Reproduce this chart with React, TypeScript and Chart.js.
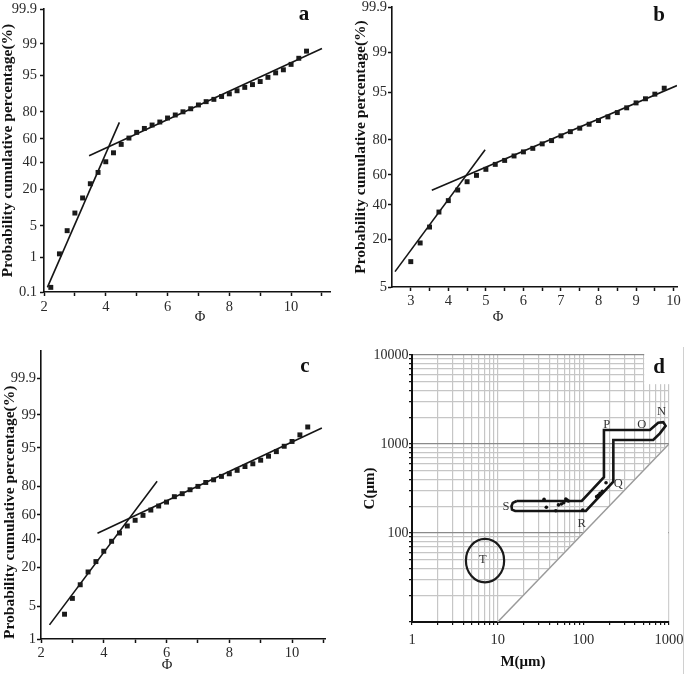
import React, { useEffect, useRef } from 'react';
import { Chart, registerables } from 'chart.js';

Chart.register(...registerables);

const SERIF = "'Liberation Serif', 'Times New Roman', Times, serif";

// ---------- Panel a ----------
const aPhi = [2.22, 2.5, 2.75, 3, 3.25, 3.5, 3.75, 4, 4.25, 4.5, 4.75, 5, 5.25, 5.5, 5.75, 6, 6.25, 6.5, 6.75, 7, 7.25, 7.5, 7.75, 8, 8.25, 8.5, 8.75, 9, 9.25, 9.5, 9.75, 10, 10.25, 10.5];
const aPct = [0.14, 1.2, 4.0, 8.6, 15, 23.4, 31.6, 40.3, 48, 55.3, 60.7, 65.4, 68.5, 71.1, 73.3, 76.1, 78.1, 80.1, 81.9, 84, 85.7, 86.8, 88.1, 89.2, 90.4, 91.6, 92.5, 93.4, 94.5, 95.5, 96.1, 97.0, 97.8, 98.5];
const aFit1Phi = [2.11, 4.44];
const aFit1Pct = [0.14, 73];
const aFit2Phi = [3.46, 11.0];
const aFit2Pct = [45.5, 98.7];
const aYTickLabels = ['0.1', '1', '5', '20', '40', '60', '80', '95', '99', '99.9'];
const aXTicks = [2, 3, 4, 5, 6, 7, 8, 9, 10, 11];
const aXTickLabels = ['2', '', '4', '', '6', '', '8', '', '10', ''];

// ---------- Panel b ----------
const bPhi = [3, 3.25, 3.5, 3.75, 4, 4.25, 4.5, 4.75, 5, 5.25, 5.5, 5.75, 6, 6.25, 6.5, 6.75, 7, 7.25, 7.5, 7.75, 8, 8.25, 8.5, 8.75, 9, 9.25, 9.5, 9.75];
const bPct = [11.2, 18.4, 26.4, 35.3, 42.7, 49.8, 55.4, 59.6, 63.5, 66.6, 69.0, 71.6, 73.9, 75.8, 78.1, 79.7, 81.9, 83.7, 85.1, 86.6, 87.9, 89.1, 90.4, 91.7, 92.9, 93.8, 94.7, 95.7];
const bFit1Phi = [2.58, 4.98];
const bFit1Pct = [8.3, 75.1];
const bFit2Phi = [3.56, 10.09];
const bFit2Pct = [49.6, 96.1];
const bYTickLabels = ['5', '20', '40', '60', '80', '95', '99', '99.9'];
const bXTicks = [3, 3.5, 4, 4.5, 5, 5.5, 6, 6.5, 7, 7.5, 8, 8.5, 9, 9.5, 10];
const bXTickLabels = ['3', '', '4', '', '5', '', '6', '', '7', '', '8', '', '9', '', '10'];

// ---------- Panel c ----------
const cPhi = [2.75, 3, 3.25, 3.5, 3.75, 4, 4.25, 4.5, 4.75, 5, 5.25, 5.5, 5.75, 6, 6.25, 6.5, 6.75, 7, 7.25, 7.5, 7.75, 8, 8.25, 8.5, 8.75, 9, 9.25, 9.5, 9.75, 10, 10.25, 10.5];
const cPct = [3.5, 6.9, 11.5, 17.5, 23.6, 30.7, 38.3, 45, 50.8, 55.5, 59.5, 63.7, 66.8, 69.7, 73.5, 75.5, 78, 80, 82.2, 83.6, 85.3, 86.5, 88, 89.5, 90.5, 91.7, 92.9, 94.1, 95.3, 96.2, 97.2, 98.1];
const cFit1Phi = [2.27, 5.7];
const cFit1Pct = [2.1, 82.9];
const cFit2Phi = [3.8, 10.95];
const cFit2Pct = [44.8, 98.0];
const cYTickLabels = ['1', '5', '20', '40', '60', '80', '95', '99', '99.9'];
const cXTicks = [2, 3, 4, 5, 6, 7, 8, 9, 10, 11];
const cXTickLabels = ['2', '', '4', '', '6', '', '8', '', '10', ''];

// ---------- Panel d (C-M diagram) ----------
const dEnvM = [16.7, 95.8, 174, 174, 599, 748, 856, 913, 783, 654, 224, 224, 107, 16.0, 14.7, 14.5, 15.0, 16.7];
const dEnvC = [229, 229, 423, 1436, 1436, 1734, 1760, 1600, 1318, 1109, 1109, 377, 177, 177, 183, 200, 218, 229];
const dDotM = [34.8, 37, 47.7, 51.2, 55.4, 59, 62.4, 64.6, 66.8, 98.4, 143, 150, 157, 167, 184];
const dDotC = [239, 195, 178, 207, 212, 219, 241, 235, 229, 181, 256, 265, 279, 294, 367];
const dDiagM = [10, 1000];
const dDiagC = [10, 1000];
const dPointLabels = ['P', 'O', 'N', 'Q', 'R', 'S', 'T'];
const dPointLabelM = [187, 480, 820, 256, 95.8, 12.5, 6.7];
const dPointLabelC = [1664, 1664, 2307, 361, 128, 198, 49.8];
const dTEllipseM = [4.26, 11.9];
const dTEllipseC = [27.9, 85.7];
const dXTicks = [1, 2, 3, 4, 5, 6, 7, 8, 9, 10, 20, 30, 40, 50, 60, 70, 80, 90, 100, 200, 300, 400, 500, 600, 700, 800, 900, 1000];
const dXTickLabels = ['1', '10', '100', '1000'];
const dYTicks = [10, 20, 30, 40, 50, 60, 70, 80, 90, 100, 200, 300, 400, 500, 600, 700, 800, 900, 1000, 2000, 3000, 4000, 5000, 6000, 7000, 8000, 9000, 10000];
const dYTickLabels = ['100', '1000', '10000'];
const dYMajor = [10, 100, 1000, 10000];

// inverse standard normal CDF (probability paper transform)
function probit(pct: number): number {
  const p = pct / 100;
  const a = [-3.969683028665376e1, 2.209460984245205e2, -2.759285104469687e2, 1.38357751867269e2, -3.066479806614716e1, 2.506628277459239];
  const b = [-5.447609879822406e1, 1.615858368580409e2, -1.556989798598866e2, 6.680131188771972e1, -1.328068155288572e1];
  const c = [-7.784894002430293e-3, -3.223964580411365e-1, -2.400758277161838, -2.549732539343734, 4.374664141464968, 2.938163982698783];
  const d = [7.784695709041462e-3, 3.224671290700398e-1, 2.445134137142996, 3.754408661907416];
  const plow = 0.02425;
  if (p < plow) {
    const q = Math.sqrt(-2 * Math.log(p));
    return (((((c[0] * q + c[1]) * q + c[2]) * q + c[3]) * q + c[4]) * q + c[5]) / ((((d[0] * q + d[1]) * q + d[2]) * q + d[3]) * q + 1);
  }
  if (p > 1 - plow) {
    const q = Math.sqrt(-2 * Math.log(1 - p));
    return -(((((c[0] * q + c[1]) * q + c[2]) * q + c[3]) * q + c[4]) * q + c[5]) / ((((d[0] * q + d[1]) * q + d[2]) * q + d[3]) * q + 1);
  }
  const q = p - 0.5;
  const r = q * q;
  return ((((((a[0] * r + a[1]) * r + a[2]) * r + a[3]) * r + a[4]) * r + a[5]) * q) / (((((b[0] * r + b[1]) * r + b[2]) * r + b[3]) * r + b[4]) * r + 1);
}

type ProbitPanel = {
  letter: string;
  phi: number[];
  pct: number[];
  fits: [number[], number[]][];
  yTickLabels: string[];
  yMinPct: number;
  yMaxPct: number;
  xMin: number;
  xMax: number;
  xTicks: number[];
  xTickLabels: string[];
  yAxisW: number;
  xAxisH: number;
  padTop: number;
  padRight: number;
  yTickPad: number;
  xTickPad: number;
  titlePadTop: number;
  titleAlign: 'start' | 'center' | 'end';
  xTitlePos: [number, number];
  letterPos: [number, number];
};

const TICK_COLOR = '#2b2b2b';
const AXIS_COLOR = '#111';

function probitConfig(p: ProbitPanel): any {
  const pts = p.phi.map((x, i) => ({ x, y: probit(p.pct[i]) }));
  const lines = p.fits.map(([xs, ps]) => xs.map((x, i) => ({ x, y: probit(ps[i]) })));
  const deco = {
    id: 'deco',
    afterDraw(chart: any) {
      const ctx = chart.ctx;
      ctx.save();
      ctx.fillStyle = '#111';
      ctx.textAlign = 'center';
      ctx.textBaseline = 'middle';
      ctx.font = `bold 21px ${SERIF}`;
      ctx.fillText(p.letter, p.letterPos[0], p.letterPos[1]);
      ctx.fillStyle = '#222';
      ctx.font = `14.5px ${SERIF}`;
      ctx.fillText('Φ', p.xTitlePos[0], p.xTitlePos[1]);
      ctx.restore();
    },
  };
  return {
    type: 'scatter',
    data: {
      datasets: [
        { data: pts, pointStyle: 'rect', pointRadius: 3.5, backgroundColor: '#1a1a1a', borderColor: '#1a1a1a', borderWidth: 0, showLine: false },
        ...lines.map((l) => ({ data: l, showLine: true, pointRadius: 0, borderColor: '#151515', borderWidth: 1.6, fill: false })),
      ],
    },
    options: {
      animation: false,
      responsive: false,
      events: [],
      layout: { padding: { top: p.padTop, right: p.padRight, left: 0, bottom: 0 } },
      plugins: { legend: { display: false }, tooltip: { enabled: false } },
      scales: {
        x: {
          type: 'linear',
          bounds: 'data',
          min: p.xMin,
          max: p.xMax,
          afterBuildTicks: (s: any) => {
            s.ticks = p.xTicks.map((v) => ({ value: v }));
          },
          afterFit: (s: any) => {
            s.height = p.xAxisH;
            s.paddingLeft = 0;
            s.paddingRight = 0;
          },
          ticks: {
            autoSkip: false,
            maxRotation: 0,
            padding: p.xTickPad,
            color: TICK_COLOR,
            font: { family: SERIF, size: 14.5 },
            callback: (_v: any, i: number) => p.xTickLabels[i],
          },
          grid: { drawOnChartArea: false, drawTicks: true, tickLength: 4, tickColor: AXIS_COLOR, tickWidth: 1.5 },
          border: { display: true, color: AXIS_COLOR, width: 1.6 },
        },
        y: {
          type: 'linear',
          bounds: 'data',
          min: probit(p.yMinPct),
          max: probit(p.yMaxPct),
          afterBuildTicks: (s: any) => {
            s.ticks = p.yTickLabels.map((t) => ({ value: probit(Number(t)) }));
          },
          afterFit: (s: any) => {
            s.width = p.yAxisW;
            s.paddingTop = 0;
            s.paddingBottom = 0;
          },
          ticks: {
            autoSkip: false,
            padding: p.yTickPad,
            color: TICK_COLOR,
            font: { family: SERIF, size: 14.5, lineHeight: 1 },
            callback: (_v: any, i: number) => p.yTickLabels[i],
          },
          grid: { drawOnChartArea: false, drawTicks: true, tickLength: 4, tickColor: AXIS_COLOR, tickWidth: 1.5 },
          border: { display: true, color: AXIS_COLOR, width: 1.6 },
          title: {
            display: true,
            text: 'Probability cumulative percentage(%)',
            color: '#111',
            align: p.titleAlign,
            font: { family: SERIF, size: 15.5, weight: 'bold', lineHeight: 1 },
            padding: { top: p.titlePadTop, bottom: 0 },
          },
        },
      },
    },
    plugins: [deco],
  };
}

const panelA: ProbitPanel = {
  letter: 'a', phi: aPhi, pct: aPct, fits: [[aFit1Phi, aFit1Pct], [aFit2Phi, aFit2Pct]],
  yTickLabels: aYTickLabels, yMinPct: 0.1, yMaxPct: 99.9, xMin: 2, xMax: 11.26, xTicks: aXTicks, xTickLabels: aXTickLabels,
  yAxisW: 44, xAxisH: 38, padTop: 9, padRight: 10, yTickPad: 3, xTickPad: 2.5, titlePadTop: 0, titleAlign: 'center',
  xTitlePos: [200, 317], letterPos: [304, 15],
};
const panelB: ProbitPanel = {
  letter: 'b', phi: bPhi, pct: bPct, fits: [[bFit1Phi, bFit1Pct], [bFit2Phi, bFit2Pct]],
  yTickLabels: bYTickLabels, yMinPct: 5, yMaxPct: 99.9, xMin: 2.5, xMax: 10.09, xTicks: bXTicks, xTickLabels: bXTickLabels,
  yAxisW: 52, xAxisH: 43, padTop: 7, padRight: 8, yTickPad: 1, xTickPad: 1, titlePadTop: 13, titleAlign: 'center',
  xTitlePos: [158, 317], letterPos: [319, 16],
};
const panelC: ProbitPanel = {
  letter: 'c', phi: cPhi, pct: cPct, fits: [[cFit1Phi, cFit1Pct], [cFit2Phi, cFit2Pct]],
  yTickLabels: cYTickLabels, yMinPct: 1, yMaxPct: 99.987, xMin: 2, xMax: 11.05, xTicks: cXTicks, xTickLabels: cXTickLabels,
  yAxisW: 41, xAxisH: 35, padTop: 21, padRight: 15, yTickPad: 1, xTickPad: 1, titlePadTop: 2, titleAlign: 'start',
  xTitlePos: [167, 335], letterPos: [305, 37],
};

function cmConfig(): any {
  const deco = {
    id: 'cmDeco',
    beforeDatasetsDraw(chart: any) {
      const { ctx, scales } = chart;
      const x = scales.x;
      const y = scales.y;
      ctx.save();
      ctx.fillStyle = '#ffffff';
      // blank corner for the panel letter
      const nx = x.getPixelForValue(500) + 1;
      const ny = y.getPixelForValue(4700);
      ctx.fillRect(nx, 0, chart.width - nx, ny);
      // blank region below the C = M line
      const bottom = y.getPixelForValue(10) - 1.2;
      const right = x.getPixelForValue(1000) - 0.8;
      ctx.beginPath();
      ctx.moveTo(x.getPixelForValue(10), bottom);
      ctx.lineTo(right, y.getPixelForValue(1000));
      ctx.lineTo(right, bottom);
      ctx.closePath();
      ctx.fill();
      ctx.restore();
    },
    afterDatasetsDraw(chart: any) {
      const { ctx, scales } = chart;
      const x = scales.x;
      const y = scales.y;
      ctx.save();
      // T ellipse
      const x0 = x.getPixelForValue(dTEllipseM[0]);
      const x1 = x.getPixelForValue(dTEllipseM[1]);
      const y0 = y.getPixelForValue(dTEllipseC[0]);
      const y1 = y.getPixelForValue(dTEllipseC[1]);
      ctx.beginPath();
      ctx.ellipse((x0 + x1) / 2, (y0 + y1) / 2, Math.abs(x1 - x0) / 2, Math.abs(y1 - y0) / 2, 0, 0, Math.PI * 2);
      ctx.strokeStyle = '#1a1a1a';
      ctx.lineWidth = 2.2;
      ctx.stroke();
      // point labels
      ctx.fillStyle = '#333';
      ctx.font = `12.5px ${SERIF}`;
      ctx.textAlign = 'center';
      ctx.textBaseline = 'middle';
      dPointLabels.forEach((t, i) => {
        ctx.fillText(t, x.getPixelForValue(dPointLabelM[i]), y.getPixelForValue(dPointLabelC[i]));
      });
      ctx.restore();
    },
    afterDraw(chart: any) {
      const ctx = chart.ctx;
      ctx.save();
      ctx.fillStyle = '#111';
      ctx.textAlign = 'center';
      ctx.textBaseline = 'middle';
      ctx.font = `bold 21px ${SERIF}`;
      ctx.fillText('d', 319, 38);
      ctx.font = `bold 15px ${SERIF}`;
      ctx.fillText('M(μm)', 183, 332);
      // faint frame edge on the right
      ctx.strokeStyle = '#d0d0d0';
      ctx.lineWidth = 1;
      ctx.beginPath();
      ctx.moveTo(343.5, 17);
      ctx.lineTo(343.5, 344);
      ctx.stroke();
      ctx.restore();
    },
  };
  return {
    type: 'scatter',
    data: {
      datasets: [
        { data: dDotM.map((m, i) => ({ x: m, y: dDotC[i] })), pointRadius: 1.8, backgroundColor: '#111', borderWidth: 0, showLine: false },
        { data: dEnvM.map((m, i) => ({ x: m, y: dEnvC[i] })), showLine: true, pointRadius: 0, borderColor: '#151515', borderWidth: 2.6, fill: false, tension: 0 },
        { data: dDiagM.map((m, i) => ({ x: m, y: dDiagC[i] })), showLine: true, pointRadius: 0, borderColor: '#9a9a9a', borderWidth: 1.5, fill: false },
      ],
    },
    options: {
      animation: false,
      responsive: false,
      events: [],
      layout: { padding: { top: 25, right: 16, left: 0, bottom: 0 } },
      plugins: { legend: { display: false }, tooltip: { enabled: false } },
      scales: {
        x: {
          type: 'logarithmic',
          bounds: 'data',
          min: 1,
          max: 1000,
          afterBuildTicks: (s: any) => {
            s.ticks = dXTicks.map((v) => ({ value: v }));
          },
          afterFit: (s: any) => {
            s.height = 52;
            s.paddingLeft = 0;
            s.paddingRight = 0;
          },
          ticks: {
            autoSkip: false,
            maxRotation: 0,
            padding: 6.5,
            color: TICK_COLOR,
            font: { family: SERIF, size: 14.5 },
            callback: (v: any) => (dXTickLabels.includes(String(v)) ? String(v) : ''),
          },
          grid: { color: '#c6c6c6', lineWidth: 1.2, drawTicks: true, tickLength: 3, tickColor: AXIS_COLOR, tickWidth: 1.2 },
          border: { display: true, color: AXIS_COLOR, width: 2 },
        },
        y: {
          type: 'logarithmic',
          bounds: 'data',
          min: 10,
          max: 10000,
          afterBuildTicks: (s: any) => {
            s.ticks = dYTicks.map((v) => ({ value: v }));
          },
          afterFit: (s: any) => {
            s.width = 72;
            s.paddingTop = 0;
            s.paddingBottom = 0;
          },
          ticks: {
            autoSkip: false,
            padding: 0.5,
            color: TICK_COLOR,
            font: { family: SERIF, size: 14, lineHeight: 1 },
            callback: (v: any) => (dYTickLabels.includes(String(v)) ? String(v) : ''),
          },
          grid: {
            color: (ctx: any) => (ctx.tick && dYMajor.includes(ctx.tick.value) ? '#8a8a8a' : '#c6c6c6'),
            lineWidth: 1.2,
            drawTicks: true,
            tickLength: 3,
            tickColor: AXIS_COLOR,
            tickWidth: 1.2,
          },
          border: { display: true, color: AXIS_COLOR, width: 2 },
          title: {
            display: true,
            text: 'C(μm)',
            color: '#111',
            font: { family: SERIF, size: 15, weight: 'bold', lineHeight: 1 },
            padding: { top: 22.5, bottom: 0 },
          },
        },
      },
    },
    plugins: [deco],
  };
}

function ChartCanvas(props: { make: () => any; left: number; top: number; width: number; height: number }) {
  const ref = useRef<HTMLCanvasElement>(null);
  useEffect(() => {
    const chart = new Chart(ref.current as HTMLCanvasElement, props.make());
    return () => chart.destroy();
  }, []);
  const { left, top, width, height } = props;
  return (
    <canvas
      ref={ref}
      width={width}
      height={height}
      style={{ position: 'absolute', left, top, width, height, display: 'block' }}
    />
  );
}

export default function App() {
  return (
    <div style={{ position: 'absolute', left: 0, top: 0, width: 685, height: 674, background: '#fff', overflow: 'hidden' }}>
      <ChartCanvas make={() => probitConfig(panelA)} left={0} top={0} width={340} height={330} />
      <ChartCanvas make={() => probitConfig(panelB)} left={340} top={0} width={345} height={330} />
      <ChartCanvas make={() => probitConfig(panelC)} left={0} top={330} width={340} height={344} />
      <ChartCanvas make={cmConfig} left={340} top={330} width={345} height={344} />
    </div>
  );
}
